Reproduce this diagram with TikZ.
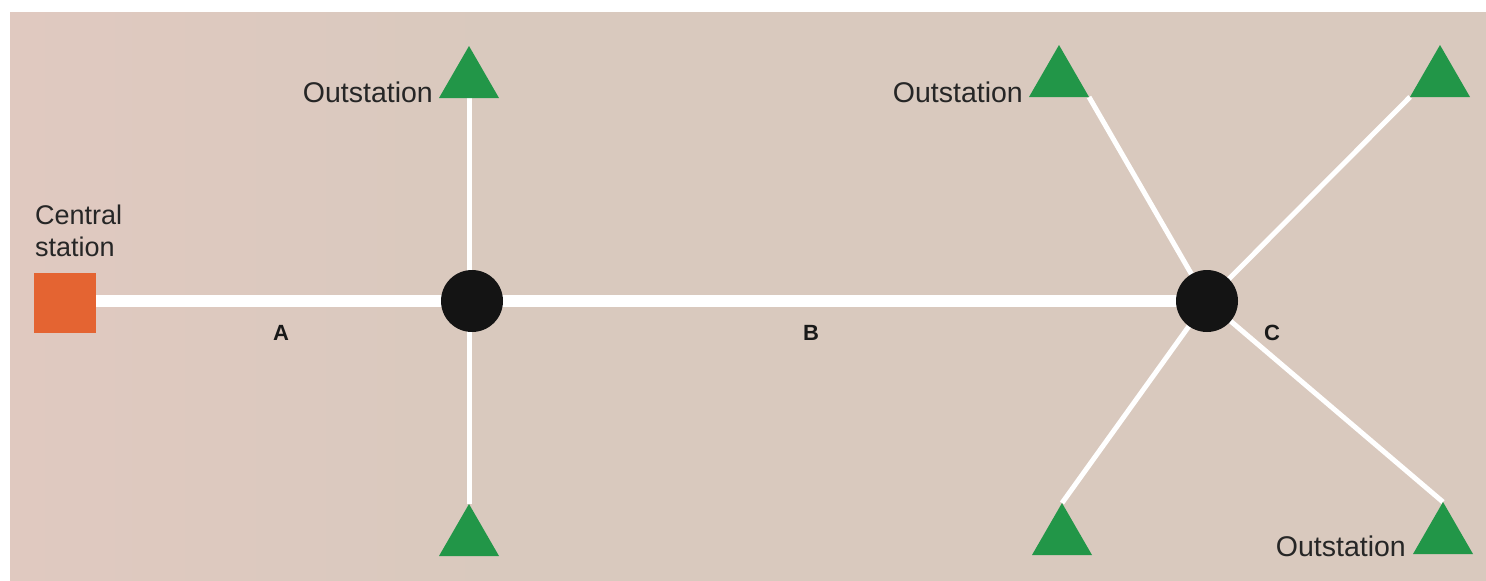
\documentclass[tikz,border=0pt]{standalone}
\usepackage{fontspec}
\setmainfont{Liberation Sans}
\usetikzlibrary{calc}
\begin{document}
\begin{tikzpicture}[x=1pt,y=-1pt,
  lbl/.style={font=\fontsize{28.5}{32}\selectfont, text=black!85, inner sep=0pt},
  cslbl/.style={font=\fontsize{27}{32}\selectfont, text=black!85, inner sep=0pt},
  letter/.style={font=\fontsize{22}{26}\selectfont\bfseries, text=black!90, inner sep=0pt},
  hub/.style={circle, fill=black!92, minimum size=62pt, inner sep=0pt},
  outstfill/.style={fill={rgb,255:red,34;green,150;blue,72}},
  central/.style={rectangle, fill={rgb,255:red,228;green,100;blue,50}, minimum width=62pt, minimum height=60pt, inner sep=0pt},
  trunk/.style={white, line width=12pt},
  branch/.style={white, line width=5pt}
]
\useasboundingbox (0,0) rectangle (1486,581);
\fill[white] (0,0) rectangle (1486,581);
\shade[left color={rgb,255:red,224;green,201;blue,192}, right color={rgb,255:red,217;green,201;blue,190}] (10,12) rectangle (500,581);
\fill[fill={rgb,255:red,217;green,201;blue,190}] (499,12) rectangle (1486,581);

% positions
\coordinate (cs) at (65,303);
\coordinate (h1) at (470,301);
\coordinate (h2) at (1207,301);
\coordinate (t1) at (469,46);
\coordinate (t2) at (469,504);
\coordinate (t3) at (1059,45);
\coordinate (t4) at (1440,45);
\coordinate (t5) at (1062,503);
\coordinate (t6) at (1443,502);
\coordinate (t1b) at ($(t1)+(0,52)$);
\coordinate (t3r) at ($(t3)+(30,52)$);
\coordinate (t4l) at ($(t4)+(-30,52)$);

% connectors
\draw[trunk] (h1 -| cs) -- (h1);
\draw[trunk] (h1) -- (h2);
\draw[branch] (t1b) -- (t1b |- h1);
\draw[branch] (t2) -- (t2 |- h1);
\draw[branch] (t3r) -- (h2);
\draw[branch] (t4l) -- (h2);
\draw[branch] (t5) -- (h2);
\draw[branch] (t6) -- (h2);

% stations
\node[central] (csn) at (cs) {};
\node[hub] (h1n) at (472,301) {};
\node[hub] (h2n) at (h2) {};
\foreach \t in {t1,t2,t3,t4,t5,t6}
  \fill[outstfill] (\t) -- ++(-30,52) -- ++(60,0) -- cycle;

\node[lbl, anchor=base east] (l1) at (433,102) {Outstation};
\node[lbl, anchor=base east] (l2) at (1023,102) {Outstation};
\node[lbl, anchor=base east] (l3) at (1406,556) {Outstation};
\node[cslbl, anchor=base west] (c1) at (35,224) {Central};
\node[cslbl, anchor=base west] (c2) at (35,256) {station};

\node[letter] (A) at (281,333) {A};
\node[letter] (B) at (811,333) {B};
\node[letter] (C) at (1272,333) {C};
\end{tikzpicture}
\end{document}
